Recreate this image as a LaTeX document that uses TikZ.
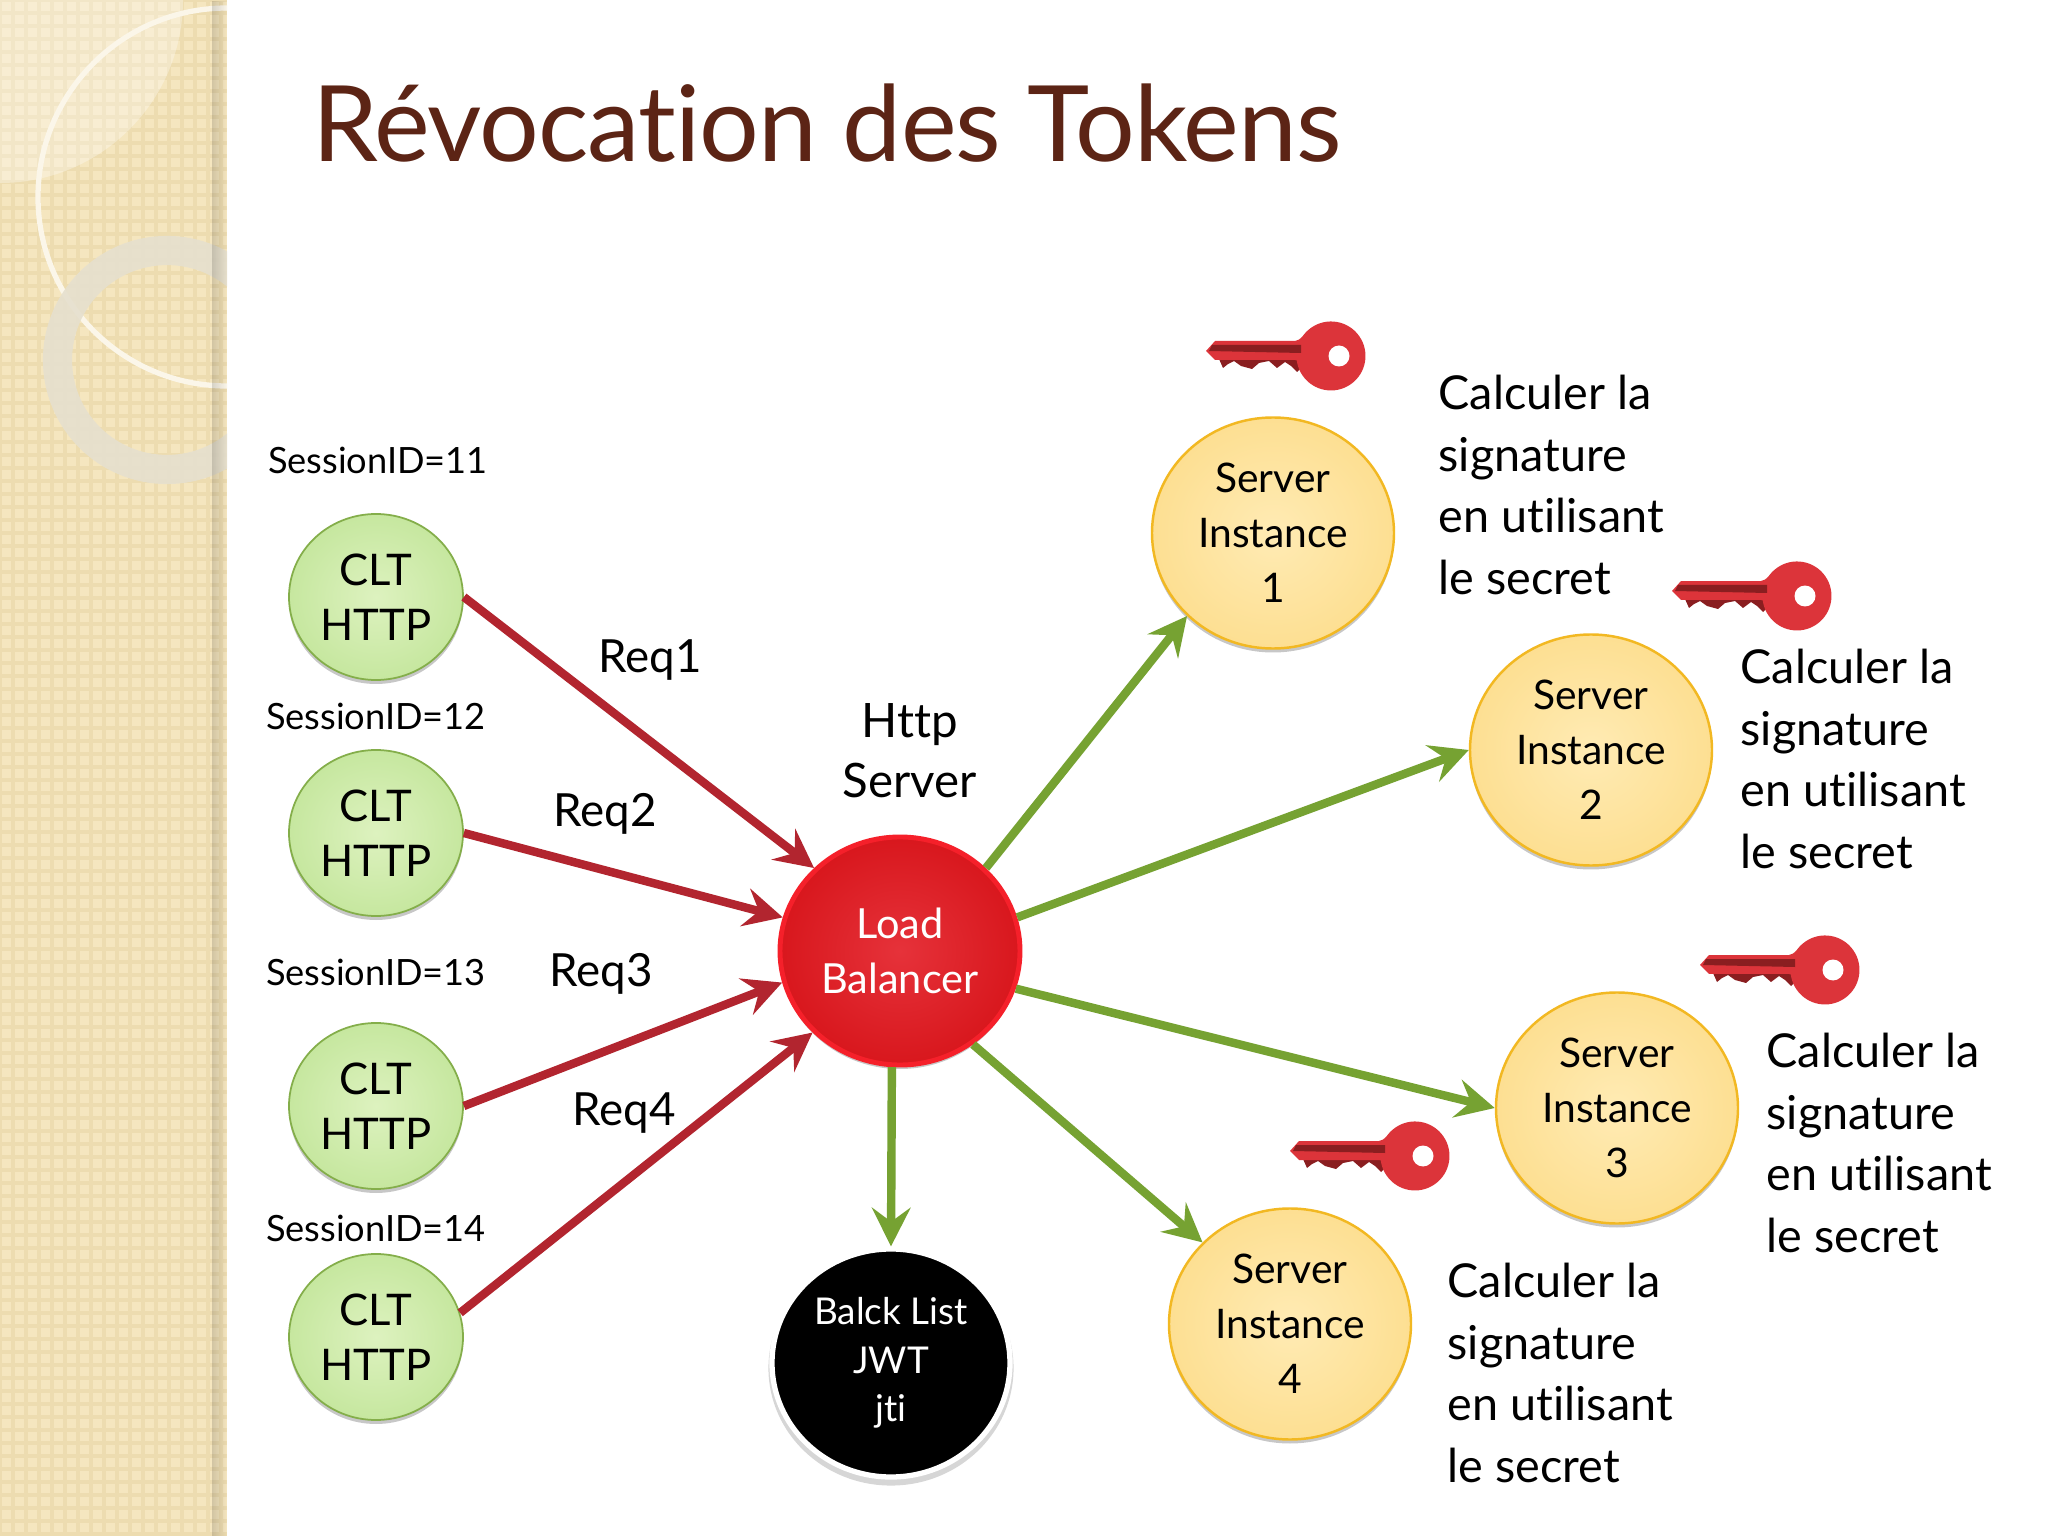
\documentclass[tikz,border=0pt]{standalone}
\usepackage{fontspec}
\setmainfont{Lato}[Ligatures=CommonOff]
\usetikzlibrary{arrows.meta,shapes.geometric,shadows,fadings}
\definecolor{sidebar}{HTML}{F5E6BF}
\definecolor{sidegrid}{HTML}{EDDCB0}
\definecolor{ringcolor}{HTML}{E6E0CE}
\definecolor{titlebrown}{HTML}{5C2415}
\definecolor{reqred}{HTML}{B2252F}
\definecolor{lbgreen}{HTML}{76A232}
\definecolor{keyred}{HTML}{DC343A}
\definecolor{keydark}{HTML}{8A1E20}
\definecolor{cltin}{HTML}{DDF2BF}
\definecolor{cltout}{HTML}{C6E79F}
\definecolor{cltline}{HTML}{84AE4A}
\definecolor{srvin}{HTML}{FFEBB4}
\definecolor{srvout}{HTML}{FDDF92}
\definecolor{srvline}{HTML}{F2B822}
\definecolor{lbin}{HTML}{E6323A}
\definecolor{lbout}{HTML}{D8171D}
\definecolor{lbline}{HTML}{F5202A}
\tikzset{
	softshadow/.style={drop shadow={shadow xshift=0pt,shadow yshift=-.04cm,opacity=.22,fill=black}},
	clt/.style={ellipse,draw=cltline,line width=.5pt,inner color=cltin,outer color=cltout,minimum width=1.74cm,minimum height=1.66cm,inner sep=0pt,align=center,font=\fontsize{12.4}{15.6}\selectfont,softshadow},
	server/.style={ellipse,draw=srvline,line width=.7pt,inner color=srvin,outer color=srvout,minimum width=2.42cm,minimum height=2.31cm,inner sep=0pt,align=center,font=\fontsize{11.6}{15.6}\selectfont,softshadow},
	req/.style={draw=reqred,line width=2.4pt,-{Stealth[length=11pt,width=11pt,inset=4pt]}},
	rep/.style={draw=lbgreen,line width=2.4pt,-{Stealth[length=11pt,width=11pt,inset=4pt]}},
	sessionlbl/.style={font=\fontsize{10.3}{12}\selectfont},
	reqlbl/.style={font=\fontsize{13}{15}\selectfont},
	calc/.style={anchor=west,align=left,inner sep=0pt,font=\fontsize{13.3}{17.6}\selectfont},
	key/.pic={
		\fill[keydark] (-1.22,.03) -- (-1.20,-.03) -- (-1.16,-.12) -- (-1.11,-.08) -- (-1.05,-.05) -- (-.98,-.10)
			-- (-.87,-.13) -- (-.80,-.07) -- (-.70,-.05) -- (-.62,-.12) -- (-.54,-.06) -- (-.48,-.10)
			-- (-.42,-.16) -- (-.36,-.10) -- (-.30,-.02) -- cycle;
		\fill[keyred] (-1.33,.05) -- (-1.24,.15) -- (-.44,.15) .. controls (-.39,.15) and (-.34,.23) .. (-.278,.283)
			arc (125:-235:.345) .. controls (-.38,-.13) and (-.40,-.04) .. (-.44,-.04) -- (-1.24,-.04) -- cycle;
		\fill[keydark] (-1.30,.05) -- (-1.27,.11) -- (-.38,.11) -- (-.38,.03) -- cycle;
		\fill[white] (0,0) circle (.105);
	}
}

\begin{document}
\begin{tikzpicture}
	\useasboundingbox (0,0) rectangle (20.48,-15.36);
	\fill[white] (0,0) rectangle (20.48,-15.36);

	% side band
	\begin{scope}
		\clip (0,0) rectangle (2.27,-15.36);
		\fill[sidebar] (0,0) rectangle (2.27,-15.36);
		\draw[step=.13,sidegrid,line width=1pt] (0,-15.36) grid (2.27,0);
		\fill[white,opacity=.3] (0,0) -- (1.83,0) arc (0:-90:1.83) -- cycle;
		\draw[sidebar!35!white,line width=1.5pt] (2.27,-1.97) circle (1.89);
		\draw[ringcolor,opacity=.92,line width=8.3pt] (1.67,-3.6) circle (1.095);
		\fill[black,opacity=.14,path fading=east] (2.12,0) rectangle (2.27,-15.36);
	\end{scope}

	\node[titlebrown,anchor=base west,inner sep=0pt,font=\fontsize{30}{36}\selectfont\addfontfeature{LetterSpace=-1}] (title) at (3.12,-1.62) {Révocation des Tokens};

	% clients
	\node[clt] (clt1) at (3.76,-5.97) {CLT\\HTTP};
	\node[clt] (clt2) at (3.76,-8.33) {CLT\\HTTP};
	\node[clt] (clt3) at (3.76,-11.06) {CLT\\HTTP};
	\node[clt] (clt4) at (3.76,-13.37) {CLT\\HTTP};

	\node[sessionlbl] (sess1) at (3.78,-4.60) {SessionID=11};
	\node[sessionlbl] (sess2) at (3.76,-7.16) {SessionID=12};
	\node[sessionlbl] (sess3) at (3.76,-9.72) {SessionID=13};
	\node[sessionlbl] (sess4) at (3.76,-12.28) {SessionID=14};

	% centre
	\node[ellipse,draw=lbline,line width=1.4pt,inner color=lbin,outer color=lbout,minimum width=2.40cm,minimum height=2.28cm,inner sep=0pt,align=center,text=white,font=\fontsize{11.8}{15.6}\selectfont,softshadow] (lb) at (9.00,-9.51) {Load\\Balancer};
	\node[ellipse,fill=black,draw=white,line width=1.5pt,minimum width=2.38cm,minimum height=2.28cm,inner sep=0pt,align=center,text=white,font=\fontsize{10.5}{13.8}\selectfont,drop shadow={shadow xshift=0pt,shadow yshift=-.05cm,shadow scale=1.03,opacity=.16,fill=black}] (black) at (8.91,-13.63) {Balck List\\JWT\\jti};
	\node[align=center,inner sep=0pt,font=\fontsize{13.5}{17}\selectfont] (http) at (9.10,-7.51) {Http\\Server};

	% servers
	\node[server] (srv1) at (12.73,-5.33) {Server\\Instance\\1};
	\node[server] (srv2) at (15.91,-7.50) {Server\\Instance\\2};
	\node[server] (srv3) at (16.17,-11.08) {Server\\Instance\\3};
	\node[server] (srv4) at (12.90,-13.24) {Server\\Instance\\4};

	\draw[req] (clt1.east) -- (lb.136);
	\draw[req] (clt2.east) -- (lb.164);
	\draw[req] (clt3.east) -- (lb.195);
	\draw[req] (clt4.16) -- (lb.223);

	\draw[rep] (lb.44) -- (srv1.224);
	\draw[rep] (lb.16) -- (srv2.west);
	\draw[rep] (lb.-18) -- (srv3.west);
	\draw[rep] (lb.-52) -- (srv4.137);
	\draw[rep] (lb.-94) -- (black.north);

	\node[reqlbl] (req1) at (6.50,-6.60) {Req1};
	\node[reqlbl] (req2) at (6.05,-8.14) {Req2};
	\node[reqlbl] (req3) at (6.01,-9.74) {Req3};
	\node[reqlbl] (req4) at (6.24,-11.13) {Req4};

	\pic at (13.39,-3.56) {key};
	\pic at (18.05,-5.96) {key};
	\pic at (18.33,-9.70) {key};
	\pic at (14.23,-11.56) {key};

	\node[calc] (calc1) at (14.38,-4.85) {Calculer la\\signature\\en utilisant\\le secret};
	\node[calc] (calc2) at (17.40,-7.59) {Calculer la\\signature\\en utilisant\\le secret};
	\node[calc] (calc3) at (17.66,-11.43) {Calculer la\\signature\\en utilisant\\le secret};
	\node[calc] (calc4) at (14.47,-13.73) {Calculer la\\signature\\en utilisant\\le secret};
\end{tikzpicture}
\end{document}
